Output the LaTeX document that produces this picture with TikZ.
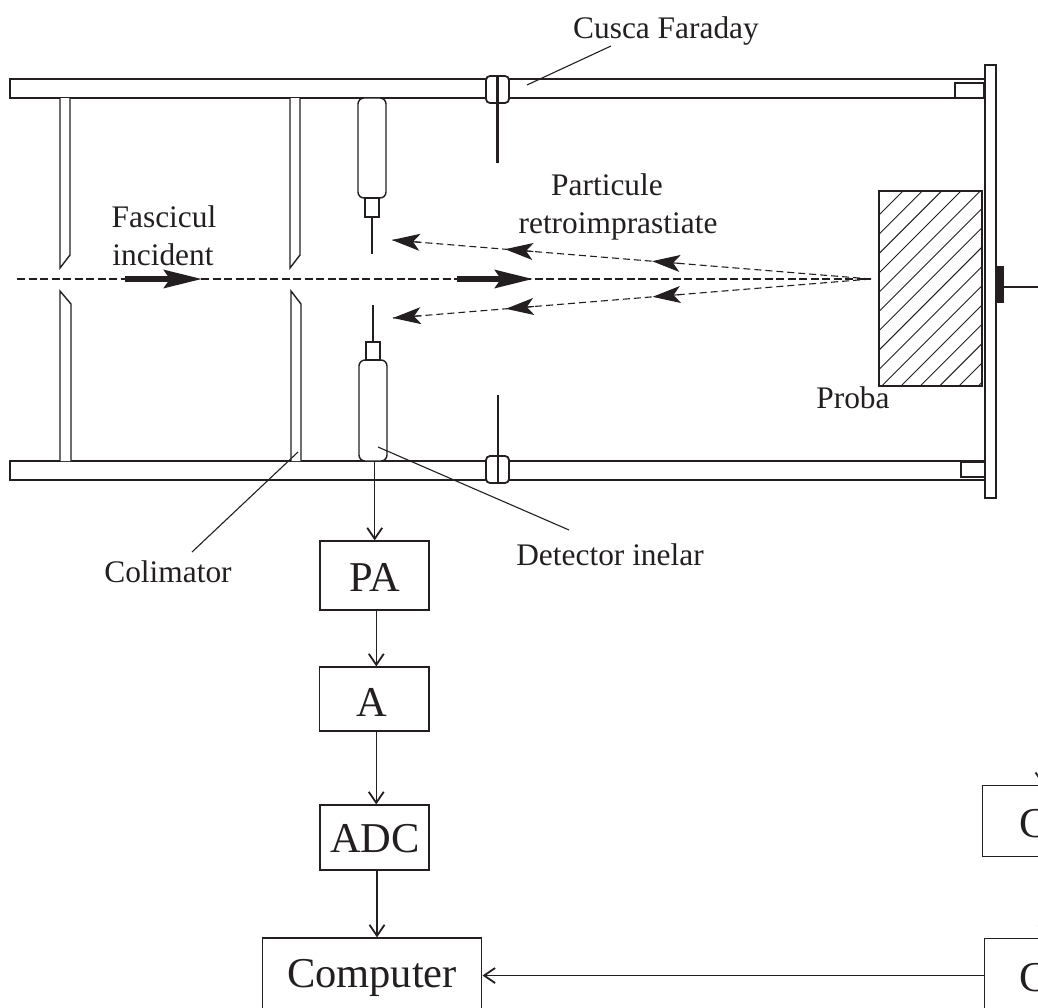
\documentclass[tikz,border=0pt]{standalone}
\usepackage{fontspec}
\setmainfont{Liberation Serif}
\usetikzlibrary{arrows.meta,calc}
\definecolor{ink}{HTML}{231F20}
\tikzset{
  px/.style={x=1pt,y=-1pt},
  thin line/.style={draw=ink,line width=1.1pt},
  bar/.style={draw=ink,line width=1.5pt,fill=white},
  wall/.style={draw=ink,line width=1.4pt,fill=white},
  needle/.style={draw=ink,line width=2.4pt},
  blockbox/.style={draw=ink,line width=1.2pt,fill=white,inner sep=0pt},
  boxtext/.style={inner sep=0pt,text=ink,font=\fontsize{42.5}{42.5}\selectfont,anchor=base},
  lab/.style={inner sep=0pt,text=ink,font=\fontsize{31.4}{36}\selectfont,anchor=base},
  flow/.style={draw=ink,line width=1.2pt,-{Straight Barb[length=11pt,width=15pt,line width=1.8pt]}},
  scatter/.style={draw=ink,line width=1.1pt,dash pattern=on 7pt off 4pt},
  beam/.style={draw=ink,line width=2pt,dash pattern=on 8pt off 3.5pt},
  bighead/.style={draw=ink,line width=5.5pt,-{Stealth[inset=6pt,length=38pt,width=18pt]}},
  midhead/.style={draw=ink,line width=1.1pt,-{Stealth[inset=7pt,length=28pt,width=17pt]}},
}
\begin{document}
\begin{tikzpicture}[px]
\useasboundingbox (0,0) rectangle (1038,1007);
\clip (0,0) rectangle (1038,1007);
% bars
\draw[bar] (10,79) rectangle (985,98);
\draw[bar] (10,461) rectangle (985,480);
% plate
\draw[bar] (985,65) rectangle (996,498);
\draw[bar] (955,83) rectangle (984,98);
\draw[bar] (961,462) rectangle (985,477);
% collimators
\draw[wall] (60,98) -- (60,268) -- (70,255) -- (70,98);
\draw[wall] (60,461) -- (60,291) -- (71,304) -- (71,461);
\draw[wall] (290,98) -- (290,268) -- (300,255) -- (300,98);
\draw[wall] (291,461) -- (291,291) -- (301,304) -- (301,461);
% detectors
\draw[wall,rounded corners=6pt] (358,98) rectangle (386,198);
\draw[wall] (365,198) rectangle (379,217);
\draw[needle] (372,217) -- (372,254);
\draw[wall,rounded corners=6pt] (359,360) rectangle (387,461);
\draw[wall] (366,342) rectangle (380,360);
\draw[needle] (373,305) -- (373,342);
% Faraday cup
\draw[wall,line width=1.8pt,rounded corners=4pt] (486,76) rectangle (509,103);
\draw[needle] (497.5,76) -- (497.5,163);
\draw[wall,line width=1.8pt,rounded corners=4pt] (486,456) rectangle (509,483);
\draw[needle] (498,395) -- (498,483);
% sample
\begin{scope}
\clip (879,191) rectangle (982,386);
\foreach \k in {0,...,15} {
  \draw[ink,line width=0.9pt] (870,{224+19.3*\k}) -- (990,{104+19.3*\k});
}
\end{scope}
\draw[thin line] (879,191) rectangle (982,386);
% holder
\fill[ink] (997,266) rectangle (1004,303);
\draw[thin line] (1004,287) -- (1038,287);
% beam
\coordinate (beamstart) at (17,279);
\coordinate (focus) at (871,279);
\draw[beam] (beamstart) -- (focus);
\draw[bighead] (125,279) -- (202,279);
\draw[bighead] (457,279) -- (533,279);
% scattered
\coordinate (upend) at (392,240);
\coordinate (lowend) at (393,318);
\draw[scatter] (focus) -- (upend);
\draw[scatter] (focus) -- (lowend);
\foreach \a/\b in {0.398/0.457,0.705/0.764,0.941/1} {
  \draw[midhead] ($(focus)!\a!(upend)$) -- ($(focus)!\b!(upend)$);
  \draw[midhead] ($(focus)!\a!(lowend)$) -- ($(focus)!\b!(lowend)$);
}
% electronics
\coordinate (detout) at (374.7,461);
\node[blockbox,minimum width=109pt,minimum height=69pt] (pa) at (374.5,575.5) {};
\node[boxtext] (patext) at (374.5,591) {PA};
\node[blockbox,minimum width=109.5pt,minimum height=64pt] (a) at (374.25,699) {};
\node[boxtext] (atext) at (371.5,716) {A};
\node[blockbox,minimum width=109pt,minimum height=65pt] (adc) at (374.5,837.5) {};
\node[boxtext] (adctext) at (375,852) {ADC};
\node[blockbox,minimum width=219.5pt,minimum height=90pt] (comp) at (372,983) {};
\node[boxtext] (comptext) at (372,987) {Computer};
\coordinate (paout) at ($(pa.south)+(1.8,0)$);
\coordinate (aout) at ($(a.south)+(2,0)$);
\coordinate (adcout) at ($(adc.south)+(2.5,0)$);
\draw[flow] (detout) -- (detout |- pa.north);
\draw[flow] (paout) -- (paout |- a.north);
\draw[flow] (aout) -- (aout |- adc.north);
\draw[flow] (adcout) -- (adcout |- comp.north);
% right boxes
\node[blockbox,anchor=north west,minimum width=100pt,minimum height=71pt] (c1) at (982,785) {};
\node[boxtext,anchor=base west] (c1text) at (1019,837) {C};
\node[blockbox,anchor=north west,minimum width=100pt,minimum height=90pt] (c2) at (984,938) {};
\node[boxtext,anchor=base west] (c2text) at (1019,991) {C};
\coordinate (c1in) at (1043,760);
\coordinate (c2in) at (1046,915);
\draw[flow] (c1in) -- (c1in |- c1.north);
\draw[flow] (c2in) -- (c2in |- c2.north);
\coordinate (wirer) at (984,975.5);
\coordinate (wirel) at (482.5,975.5);
\draw[flow] (wirer) -- (wirel);
% labels
\node[lab] (cusca) at (666,38) {Cusca Faraday};
\coordinate (cuscaa) at (611,46);
\coordinate (cuscab) at (527,85);
\draw[thin line] (cuscaa) -- (cuscab);
\node[lab] (part) at (607,195) {Particule};
\node[lab] (retro) at (618,233) {retroimprastiate};
\node[lab] (fasc) at (164,227) {Fascicul};
\node[lab] (inc) at (163,265) {incident};
\node[lab] (proba) at (853,408) {Proba};
\node[lab] (colim) at (168,582) {Colimator};
\coordinate (colima) at (192,552);
\coordinate (colimb) at (298,452);
\draw[thin line] (colima) -- (colimb);
\node[lab] (det) at (610,565) {Detector inelar};
\coordinate (deta) at (378,447);
\coordinate (detb) at (569,530);
\draw[thin line] (deta) -- (detb);
\end{tikzpicture}
\end{document}
